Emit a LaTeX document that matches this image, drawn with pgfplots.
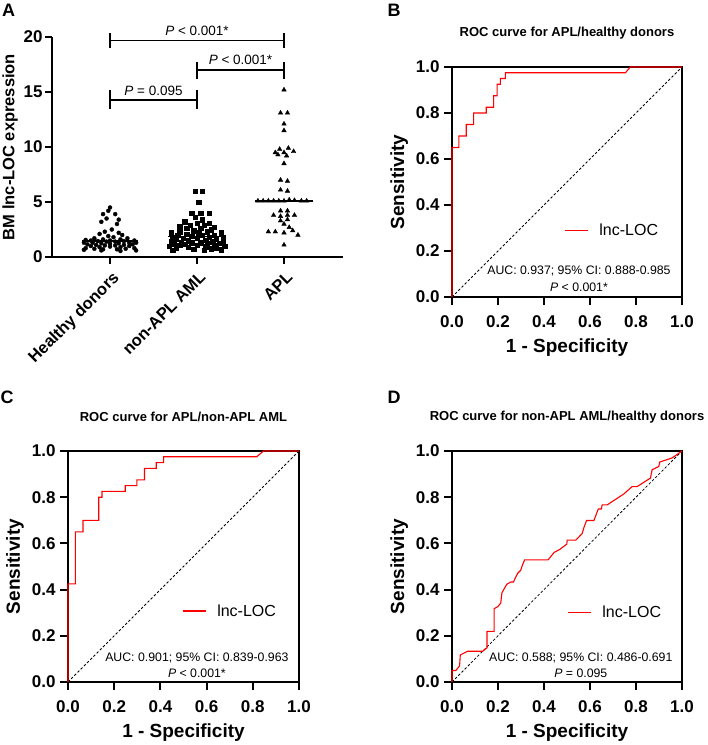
\documentclass[border=0pt]{standalone}
\usepackage{pgfplots}
\pgfplotsset{compat=1.18}
\usepackage{fontspec}
\setmainfont{Liberation Sans}
\newcommand{\fs}[1]{\fontsize{#1pt}{#1pt}\selectfont}
\pgfplotsset{
  rocaxis/.style={
    scale only axis, width=230pt, height=230pt,
    xmin=0, xmax=1, ymin=0, ymax=1,
    xtick={0,0.2,0.4,0.6,0.8,1.0}, ytick={0,0.2,0.4,0.6,0.8,1.0},
    tick align=outside, tick pos=left, major tick length=8pt,
    axis line style={line width=2.4pt},
    every tick/.append style={black, line width=2pt},
    ticklabel style={font=\bfseries\fs{17}},
    xticklabel style={yshift=-7pt},
    yticklabel style={xshift=-1pt},
    /pgf/number format/fixed, /pgf/number format/fixed zerofill, /pgf/number format/precision=1,
    /pgf/number format/assume math mode=true,
    clip=false,
    xlabel={1 - Specificity}, ylabel={Sensitivity},
    every axis x label/.style={at={(axis description cs:0.5,0)}, anchor=center, yshift=-51pt, font=\bfseries\fs{19}},
    every axis y label/.style={at={(axis description cs:-0.23,0.5)}, anchor=center, rotate=90, font=\bfseries\fs{19}},
    every axis title/.style={at={(axis description cs:0.5,1)}, anchor=center, yshift=34pt, font=\bfseries\fs{13}},
    legend style={draw=none, fill=none, font=\fs{16}, anchor=west, inner sep=0pt,
      /tikz/every odd column/.append style={column sep=9pt}},
    legend image code/.code={\draw[##1, line width=1.2pt] (0pt,0pt) -- (23pt,0pt);},
  },
  roc/.style={red, line width=1.1pt, mark=none},
  diag/.style={black, line width=0.8pt, dash pattern=on 2.5pt off 2pt, forget plot},
}
\begin{document}
\begin{tikzpicture}
\useasboundingbox (0pt,0pt) rectangle (708pt,-745pt);

% ---------------- Panel A ----------------
\begin{axis}[
  at={(52pt,-257pt)}, anchor=south west, scale only axis, width=291pt, height=220pt,
  xmin=-0.667, xmax=2.678, ymin=0, ymax=20,
  axis x line=bottom, axis y line=left,
  axis line style={-, line width=2pt},
  xtick={0,1,2}, xticklabels={Healthy donors, non-APL AML, APL},
  ytick={0,5,10,15,20},
  tick align=outside, major tick length=7pt,
  every tick/.append style={black, line width=2pt},
  /pgf/number format/assume math mode=true,
  yticklabel style={font=\bfseries\fs{17}, xshift=1pt},
  xticklabel style={font=\bfseries\fs{16.5}, rotate=45, anchor=north east, yshift=-2pt},
  ylabel={BM lnc-LOC expression},
  every axis y label/.style={at={(axis description cs:-0.144,0.5)}, anchor=center, rotate=90, font=\bfseries\fs{16.5}},
  clip=false,
]
\addplot[only marks, mark=*, mark size=2pt, black] coordinates {
(0.0,4.5)(-0.02,4.2)(-0.08,3.9)(0.06,3.9)(-0.04,3.5)(0.1,3.4)(-0.1,3.2)(0.08,3.0)
(0.02,2.5)(-0.06,2.3)(0.1,2.2)(-0.12,2.1)(0.14,2.0)(-0.02,1.9)(0.04,1.8)(-0.18,1.7)
(0.2,1.7)(-0.08,1.6)(0.12,1.6)(-0.28,1.55)(0.28,1.5)(-0.22,1.5)(0.0,1.5)(-0.14,1.45)
(0.16,1.45)(0.06,1.4)(-0.04,1.4)(-0.3,1.3)(0.3,1.3)(-0.2,1.3)(0.22,1.3)(-0.1,1.25)
(0.1,1.25)(0.0,1.2)(-0.26,1.15)(0.26,1.15)(-0.16,1.1)(0.16,1.1)(-0.06,1.05)(0.06,1.05)
(-0.22,1.0)(0.22,1.0)(0.0,0.95)(-0.12,0.9)(0.12,0.9)(-0.28,0.8)(0.28,0.8)(-0.18,0.75)
(0.18,0.75)(-0.08,0.7)(0.08,0.7)(-0.3,0.65)(0.3,0.6)(-0.1,0.6)(0.12,0.55)
};
\addplot[only marks, mark=square*, mark size=2.2pt, black] coordinates {
(0.98,6.0)(1.06,6.0)(1.02,5.0)(0.94,4.0)(1.04,4.0)(1.14,4.0)(0.98,3.6)(1.06,3.4)
(0.86,3.2)(1.0,3.1)(1.14,3.1)(0.92,2.9)(1.08,2.9)(0.8,2.8)(1.2,2.7)(0.88,2.6)
(1.04,2.6)(1.16,2.5)(0.96,2.4)(0.8,2.3)(1.12,2.3)(0.7,2.2)(1.28,2.2)(1.02,2.2)
(0.88,2.1)(1.2,2.0)(0.78,2.0)(1.06,2.0)(0.94,1.9)(1.3,1.8)(0.72,1.8)(1.14,1.8)
(0.84,1.7)(1.0,1.7)(1.22,1.6)(0.76,1.6)(1.1,1.55)(0.9,1.5)(1.3,1.5)(0.7,1.4)
(1.18,1.4)(0.82,1.35)(1.04,1.3)(0.94,1.3)(1.26,1.25)(0.74,1.2)(1.12,1.2)(0.86,1.15)
(1.0,1.1)(1.2,1.1)(0.8,1.05)(1.32,1.0)(0.68,1.0)(1.1,0.95)(0.9,0.9)(1.22,0.85)
(0.76,0.8)(1.16,0.75)(0.96,0.7)(1.28,0.65)(0.72,0.6)(1.08,0.6)
};
\addplot[only marks, mark=triangle*, mark size=2.6pt, black] coordinates {
(2.0,15.2)(1.96,13.1)(2.04,13.1)(2.0,12.1)(2.0,11.5)(1.9,9.5)(1.95,9.8)(2.0,9.5)
(2.05,9.9)(2.11,9.6)(2.03,9.2)(1.93,9.3)(2.0,8.5)(1.96,7.0)(2.04,6.9)(1.96,6.1)(2.04,6.0)
(1.7,5.1)(1.76,5.1)(1.82,5.1)(1.88,5.1)(1.94,5.1)(2.0,5.1)(2.06,5.2)(2.12,5.15)(2.2,5.1)(2.26,5.1)
(1.96,4.2)(2.04,4.2)(1.88,3.8)(1.96,3.7)(2.04,3.8)(2.12,3.8)(1.96,3.3)(2.04,3.4)(2.0,3.0)
(2.06,2.7)(2.1,2.4)(1.82,2.3)(1.9,2.3)(2.0,2.2)(2.16,2.0)(2.0,1.1)
};
\addplot[black, line width=1.6pt, mark=none] coordinates {(-0.32,1.45) (0.32,1.45)};
\addplot[black, line width=1.6pt, mark=none] coordinates {(0.67,1.85) (1.33,1.85)};
\addplot[black, line width=1.6pt, mark=none] coordinates {(1.67,5.1) (2.33,5.1)};
% significance brackets
\draw[line width=1.5pt] (axis cs:0,20.35) -- (axis cs:0,19.0);
\draw[line width=1.5pt] (axis cs:2,20.35) -- (axis cs:2,19.0);
\draw[line width=1.5pt] (axis cs:0,19.7) -- (axis cs:2,19.7);
\node[font=\fs{13.5}] at (axis cs:1,20.55) {\textit{P} < 0.001*};
\draw[line width=1.5pt] (axis cs:1,17.75) -- (axis cs:1,16.15);
\draw[line width=1.5pt] (axis cs:2,17.75) -- (axis cs:2,16.15);
\draw[line width=1.5pt] (axis cs:1,17.0) -- (axis cs:2,17.0);
\node[font=\fs{13.5}] at (axis cs:1.5,17.9) {\textit{P} < 0.001*};
\draw[line width=1.5pt] (axis cs:0,15.2) -- (axis cs:0,13.45);
\draw[line width=1.5pt] (axis cs:1,15.2) -- (axis cs:1,13.45);
\draw[line width=1.5pt] (axis cs:0,14.27) -- (axis cs:1,14.27);
\node[font=\fs{13.5}] at (axis cs:0.5,15.15) {\textit{P} = 0.095};
\end{axis}

% ---------------- Panel B ----------------
\begin{axis}[rocaxis,
  at={(452pt,-297pt)}, anchor=south west,
  title={ROC curve for APL/healthy donors},
  legend style={at={(axis description cs:0.487,0.29)}},
]
\addplot[diag] coordinates {(0,0) (1,1)};
\addplot[roc] coordinates {
(0,0) (0,0.65) (0.03,0.65) (0.03,0.70) (0.062,0.70) (0.062,0.75) (0.094,0.75) (0.094,0.80)
(0.149,0.80) (0.149,0.825) (0.181,0.825) (0.181,0.875) (0.196,0.875) (0.196,0.925)
(0.21,0.925) (0.21,0.95) (0.232,0.95) (0.232,0.975) (0.754,0.975) (0.775,1.0) (1,1)
};
\addlegendentry{lnc-LOC}
\node[font=\fs{12.3}] at (axis description cs:0.552,0.113) {AUC: 0.937; 95\% CI: 0.888-0.985};
\node[font=\fs{12.3}] at (axis description cs:0.552,0.043) {\textit{P} < 0.001*};
\end{axis}

% ---------------- Panel C ----------------
\begin{axis}[rocaxis,
  at={(68pt,-682pt)}, anchor=south west, width=231pt, height=231pt,
  title={ROC curve for APL/non-APL AML},
  legend style={at={(axis description cs:0.493,0.307)}},
]
\addplot[diag] coordinates {(0,0) (1,1)};
\addplot[roc] coordinates {
(0,0) (0,0.425) (0.032,0.425) (0.032,0.65) (0.065,0.65) (0.065,0.70) (0.133,0.70) (0.133,0.80)
(0.147,0.80) (0.147,0.825) (0.248,0.825) (0.248,0.85) (0.298,0.85) (0.298,0.875)
(0.331,0.875) (0.331,0.925) (0.382,0.925) (0.382,0.95) (0.414,0.95) (0.414,0.975)
(0.817,0.975) (0.846,1.0) (1,1)
};
\addlegendentry{lnc-LOC}
\node[font=\fs{12.3}] at (axis description cs:0.558,0.105) {AUC: 0.901; 95\% CI: 0.839-0.963};
\node[font=\fs{12.3}] at (axis description cs:0.558,0.04) {\textit{P} < 0.001*};
\end{axis}

% ---------------- Panel D ----------------
\begin{axis}[rocaxis,
  at={(452pt,-682pt)}, anchor=south west, width=230pt, height=231pt,
  title={ROC curve for non-APL AML/healthy donors},
  legend style={at={(axis description cs:0.5,0.30)}},
]
\addplot[diag] coordinates {(0,0) (1,1)};
\addplot[roc] coordinates {
(0,0) (0,0.05) (0.017,0.05) (0.033,0.07) (0.036,0.117) (0.068,0.133) (0.133,0.133)
(0.152,0.148) (0.152,0.219) (0.183,0.219) (0.183,0.317) (0.2,0.327) (0.212,0.342)
(0.217,0.386) (0.238,0.423) (0.256,0.433) (0.267,0.433) (0.285,0.47) (0.299,0.484)
(0.306,0.506) (0.316,0.529) (0.418,0.529) (0.444,0.561) (0.47,0.575) (0.499,0.597)
(0.501,0.614) (0.538,0.614) (0.566,0.643) (0.574,0.67) (0.585,0.699) (0.617,0.699)
(0.636,0.749) (0.649,0.749) (0.653,0.767) (0.675,0.767) (0.747,0.814) (0.783,0.846)
(0.805,0.846) (0.863,0.883) (0.87,0.919) (0.899,0.933) (0.903,0.952) (0.957,0.97) (1,1)
};
\addlegendentry{lnc-LOC}
\node[font=\fs{12.3}] at (axis description cs:0.56,0.105) {AUC: 0.588; 95\% CI: 0.486-0.691};
\node[font=\fs{12.3}] at (axis description cs:0.56,0.04) {\textit{P} = 0.095};
\end{axis}

% panel letters
\node[font=\bfseries\fs{18}] at (8.5pt,-10pt) {A};
\node[font=\bfseries\fs{18}] at (394pt,-10pt) {B};
\node[font=\bfseries\fs{18}] at (7pt,-397pt) {C};
\node[font=\bfseries\fs{18}] at (394pt,-397pt) {D};
\end{tikzpicture}
\end{document}
